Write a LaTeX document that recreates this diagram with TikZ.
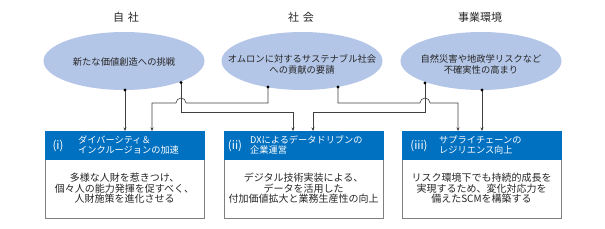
\documentclass[tikz,border=0pt]{standalone}
\usepackage{fontspec}
\newfontfamily\jp{Noto Sans CJK JP}
\usetikzlibrary{shapes.geometric,arrows.meta}
\definecolor{ellfill}{HTML}{B4C6E7}
\definecolor{hdrblue}{HTML}{0070C0}
\definecolor{boxgray}{HTML}{7F7F7F}
\definecolor{linegray}{HTML}{404040}
\begin{document}
\begin{tikzpicture}[x=1pt,y=-1pt,
  ell/.style={ellipse,fill=ellfill,draw=none,minimum width=161pt,minimum height=58pt,inner sep=0pt},
  elltext/.style={font=\jp\fontsize{9.3}{11}\selectfont,text=black!85,align=center,inner sep=0pt},
  ttl/.style={font=\jp\fontsize{11}{12}\selectfont,text=black!85,inner sep=0pt},
  boxbody/.style={draw=boxgray,line width=0.6pt,fill=white,minimum width=159pt,minimum height=87pt,inner sep=0pt,anchor=north west},
  hdr/.style={fill=hdrblue,draw=hdrblue,line width=0.6pt,minimum width=159pt,minimum height=28pt,inner sep=0pt,anchor=north west},
  hdrnum/.style={font=\jp\fontsize{11.5}{12}\selectfont,text=white,inner sep=0pt},
  hdrtext/.style={font=\jp\fontsize{9.2}{10.5}\selectfont,text=white,align=left,inner sep=0pt,anchor=west},
  bodytext/.style={font=\jp\fontsize{10}{10.6}\selectfont,text=black!85,align=center,inner sep=0pt},
  dot/.style={circle,fill=black,inner sep=0pt,minimum size=3.2pt},
  conn/.style={draw=linegray,line width=0.6pt},
  arr/.style={conn,-{Stealth[length=3.5pt,width=3pt]}}
]
\useasboundingbox (0,0) rectangle (605,229);

% titles
\node[ttl] (t1) at (126,17) {自\hspace{4pt}社};
\node[ttl] (t2) at (301,17) {社\hspace{4pt}会};
\node[ttl] (t3) at (480,17) {事業環境};

% ellipses
\node[ell] (e1) at (124,61) {};
\node[ell] (e2) at (302,61) {};
\node[ell] (e3) at (481,61) {};
\node[elltext] (e1t) at (124,62) {新たな価値創造への挑戦};
\node[elltext] (e2t) at (302,64.5) {オムロンに対するサステナブル社会\\への貢献の要請};
\node[elltext] (e3t) at (481,64) {自然災害や地政学リスクなど\\不確実性の高まり};

% boxes
\node[boxbody] (b1) at (45,131) {};
\node[boxbody] (b2) at (224,131) {};
\node[boxbody] (b3) at (402,131) {};
\node[hdr] (h1) at (45,131) {};
\node[hdr] (h2) at (224,131) {};
\node[hdr] (h3) at (402,131) {};

\node[hdrnum] (n1) at (58,145.5) {(i)};
\node[hdrnum] (n2) at (235,145.5) {(ii)};
\node[hdrnum] (n3) at (419,145.5) {(iii)};
\node[hdrtext] (ht1) at (78,145) {ダイバーシティ＆\\インクルージョンの加速};
\node[hdrtext] (ht2) at (250,145) {DXによるデータドリブンの\\企業運営};
\node[hdrtext] (ht3) at (439,145) {サプライチェーンの\\レジリエンス向上};

\node[bodytext] (bt1) at (124.5,188.5) {多様な人財を惹きつけ、\\個々人の能力発揮を促すべく、\\人財施策を進化させる};
\node[bodytext] (bt2) at (303.5,188.5) {デジタル技術実装による、\\データを活用した\\付加価値拡大と業務生産性の向上};
\node[bodytext] (bt3) at (481.5,188.5) {リスク環境下でも持続的成長を\\実現するため、変化対応力を\\備えたSCMを構築する};

% connection points on ellipses
\coordinate (p1a) at (125,90);
\coordinate (p1b) at (181,82.5);
\coordinate (p2a) at (268,87);
\coordinate (p2b) at (338,87);
\coordinate (p3a) at (425,83);
\coordinate (p3b) at (482,90);

% connectors
\draw[arr] (p1a) -- (p1a |- b1.north);
\draw[arr] (p1b) -- (181,112.5) -- (293,112.5) -- (293,131);
\draw[arr] (p2a) -- (268,103) -- (186,103) arc[start angle=0,end angle=180,radius=5pt] -- (152,103) -- (152,131);
\draw[arr] (p2b) -- (338,103) -- (420,103) arc[start angle=180,end angle=0,radius=5pt] -- (458,103) -- (458,131);
\draw[arr] (p3a) -- (425,112.5) -- (313,112.5) -- (313,131);
\draw[arr] (p3b) -- (p3b |- b3.north);

\foreach \p in {p1a,p1b,p2a,p2b,p3a,p3b} \node[dot] at (\p) {};
\end{tikzpicture}
\end{document}
